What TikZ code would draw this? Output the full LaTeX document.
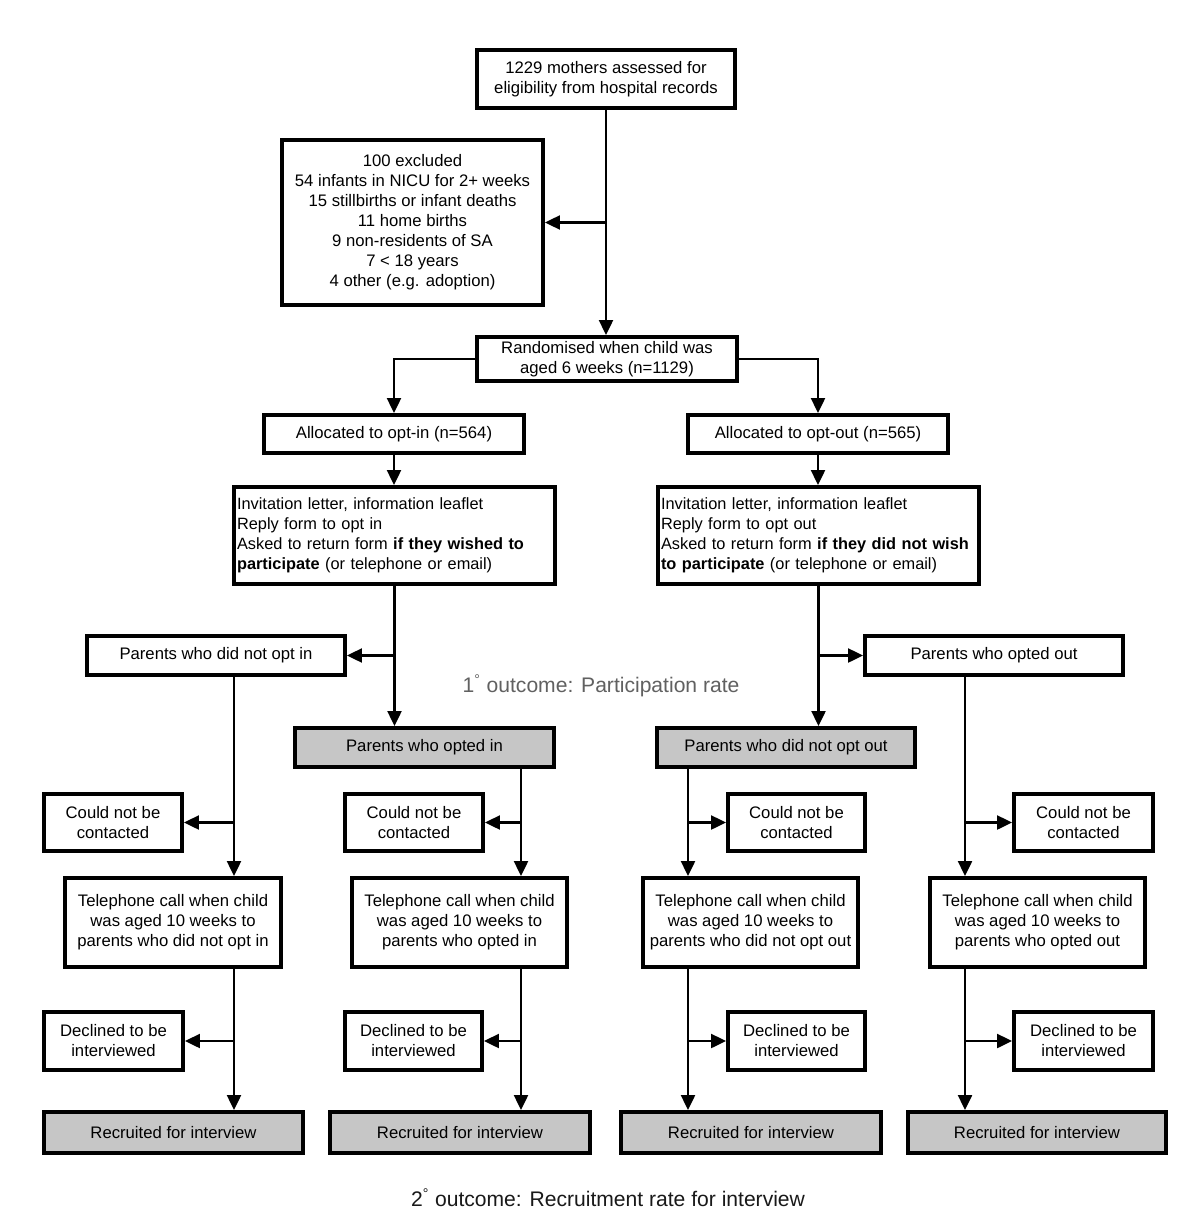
\documentclass[tikz,border=0pt]{standalone}
\usepackage{fontspec}
\setmainfont{Liberation Sans}
\usetikzlibrary{arrows.meta}
\definecolor{boxgray}{RGB}{198,198,198}
\newcommand\fsmain{\fontsize{9.5}{11.4}\selectfont}
\newcommand\fsinv{\fontsize{9.3}{11.4}\selectfont}
\newcommand\fsbig{\fontsize{12}{14}\selectfont}
\begin{document}
\begin{tikzpicture}[x=0.02cm,y=-0.02cm,
  box/.style={draw, line width=2.3pt, inner sep=0pt, align=center, font=\fsmain},
  wh/.style 2 args={minimum width=#1*0.02cm, minimum height=#2*0.02cm},
  gbox/.style={box, fill=boxgray},
  lbox/.style={box, align=left, inner xsep=0.06cm, font=\fsinv},
  arr/.style={line width=1.2pt, -{Triangle[length=8.5pt,width=8pt]}},
  note/.style={font=\fsbig}]
\useasboundingbox[fill=white] (0,0) rectangle (1200,1226);

% top part
\node[box, wh={258}{58}] (top) at (606,79) {1229 mothers assessed for\\eligibility from hospital records};
\node[box, wh={261}{165}] (excl) at (412.5,222.5) {100 excluded\\54 infants in NICU for 2+ weeks\\15 stillbirths or infant deaths\\11 home births\\9 non-residents of SA\\7 < 18 years\\4 other (e.g. adoption)};
\node[box, wh={260}{44}] (rand) at (607,359) {Randomised when child was\\aged 6 weeks (n=1129)};
\node[box, wh={260}{38}] (allocIn) at (394,434) {Allocated to opt-in (n=564)};
\node[box, wh={260}{38}] (allocOut) at (818,434) {Allocated to opt-out (n=565)};
\node[lbox, text width=6.3cm, wh={321}{97}] (invIn) at (394.5,535.5) {\mbox{Invitation letter, information leaflet}\\\mbox{Reply form to opt in}\\\mbox{Asked to return form \textbf{if they wished to}}\\\mbox{\textbf{participate} (or telephone or email)}};
\node[lbox, text width=6.3cm, wh={321}{97}] (invOut) at (818.5,535.5) {\mbox{Invitation letter, information leaflet}\\\mbox{Reply form to opt out}\\\mbox{Asked to return form \textbf{if they did not wish}}\\\mbox{\textbf{to participate} (or telephone or email)}};

% outcome split
\node[box, wh={258}{39}] (notIn) at (216,655.5) {Parents who did not opt in};
\node[box, wh={258}{39}] (optedOut) at (994,655.5) {Parents who opted out};
\node[gbox, wh={259}{39}] (optedIn) at (424.5,747.5) {Parents who opted in};
\node[gbox, wh={258}{39}] (notOut) at (786,747.5) {Parents who did not opt out};
\node[note, text=black!62] (o1) at (601,686) {1\textsuperscript{°} outcome: Participation rate};

% could not be contacted
\node[box, wh={138}{57}] (cnc1) at (113,822.5) {Could not be\\contacted};
\node[box, wh={138}{57}] (cnc2) at (414,822.5) {Could not be\\contacted};
\node[box, wh={137}{57}] (cnc3) at (796.5,822.5) {Could not be\\contacted};
\node[box, wh={139}{57}] (cnc4) at (1083.5,822.5) {Could not be\\contacted};

% telephone
\node[box, wh={216}{89}] (tel1) at (173,922.5) {Telephone call when child\\was aged 10 weeks to\\parents who did not opt in};
\node[box, wh={215}{89}] (tel2) at (459.5,922.5) {Telephone call when child\\was aged 10 weeks to\\parents who opted in};
\node[box, wh={215}{89}] (tel3) at (750.5,922.5) {Telephone call when child\\was aged 10 weeks to\\parents who did not opt out};
\node[box, wh={215}{89}] (tel4) at (1037.5,922.5) {Telephone call when child\\was aged 10 weeks to\\parents who opted out};

% declined
\node[box, wh={139}{58}] (dec1) at (113.5,1041) {Declined to be\\interviewed};
\node[box, wh={137}{58}] (dec2) at (413.5,1041) {Declined to be\\interviewed};
\node[box, wh={137}{58}] (dec3) at (796.5,1041) {Declined to be\\interviewed};
\node[box, wh={139}{58}] (dec4) at (1083.5,1041) {Declined to be\\interviewed};

% recruited
\node[gbox, wh={259}{41}] (rec1) at (173.5,1132.5) {Recruited for interview};
\node[gbox, wh={260}{41}] (rec2) at (460,1132.5) {Recruited for interview};
\node[gbox, wh={260}{41}] (rec3) at (751,1132.5) {Recruited for interview};
\node[gbox, wh={258}{41}] (rec4) at (1037,1132.5) {Recruited for interview};

\node[note, text=black!90] (o2) at (608,1198) {2\textsuperscript{°} outcome: Recruitment rate for interview};

% connectors
\draw[arr] (top.south) -- (top.south |- rand.north);
\draw[arr] (top.south |- excl.east) -- (excl.east);
\draw[arr] (rand.west) -| (allocIn.north);
\draw[arr] (rand.east) -| (allocOut.north);
\draw[arr] (allocIn.south) -- (allocIn.south |- invIn.north);
\draw[arr] (allocOut.south) -- (allocOut.south |- invOut.north);
\draw[arr] (invIn.south) -- (invIn.south |- optedIn.north);
\draw[arr] (invIn.south |- notIn.east) -- (notIn.east);
\draw[arr] (invOut.south) -- (invOut.south |- notOut.north);
\draw[arr] (invOut.south |- optedOut.west) -- (optedOut.west);

\coordinate (c1) at (234,0);
\coordinate (c2) at (521,0);
\coordinate (c3) at (688,0);
\coordinate (c4) at (965,0);

\draw[arr] (notIn.south -| c1) -- (tel1.north -| c1);
\draw[arr] (c1 |- cnc1.east) -- (cnc1.east);
\draw[arr] (tel1.south -| c1) -- (rec1.north -| c1);
\draw[arr] (c1 |- dec1.east) -- (dec1.east);

\draw[arr] (optedIn.south -| c2) -- (tel2.north -| c2);
\draw[arr] (c2 |- cnc2.east) -- (cnc2.east);
\draw[arr] (tel2.south -| c2) -- (rec2.north -| c2);
\draw[arr] (c2 |- dec2.east) -- (dec2.east);

\draw[arr] (notOut.south -| c3) -- (tel3.north -| c3);
\draw[arr] (c3 |- cnc3.west) -- (cnc3.west);
\draw[arr] (tel3.south -| c3) -- (rec3.north -| c3);
\draw[arr] (c3 |- dec3.west) -- (dec3.west);

\draw[arr] (optedOut.south -| c4) -- (tel4.north -| c4);
\draw[arr] (c4 |- cnc4.west) -- (cnc4.west);
\draw[arr] (tel4.south -| c4) -- (rec4.north -| c4);
\draw[arr] (c4 |- dec4.west) -- (dec4.west);
\end{tikzpicture}
\end{document}
